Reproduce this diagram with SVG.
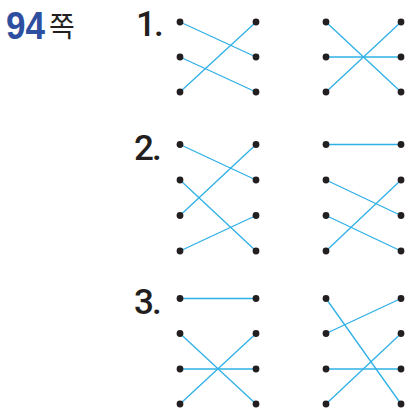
<svg xmlns="http://www.w3.org/2000/svg" width="406" height="408" viewBox="0 0 406 408">
<style>
.ln{stroke:#2fb0e6;stroke-width:1.3;fill:none}
.dot{fill:#231f20}
.num{font-family:Roboto,"Liberation Sans",Arial,sans-serif;font-weight:500;font-size:35px;fill:#231f20;letter-spacing:-2px}
</style>
<defs><circle id="d" r="3.4" class="dot"/></defs>
<g id="title">
<text x="6" y="39" font-family="Liberation Sans,Arial,sans-serif" font-weight="bold" font-size="39" fill="#2e4fa0" textLength="39" lengthAdjust="spacingAndGlyphs">94</text>
<text x="49" y="37" font-family="Noto Sans CJK KR,sans-serif" font-size="28" fill="#231f20">쪽</text>
</g>
<g id="labels">
<text class="num" x="136" y="36">1.</text>
<text class="num" x="134" y="160">2.</text>
<text class="num" x="134" y="314">3.</text>
</g>
<g id="connectors">
<line class="ln" x1="180" y1="22" x2="256" y2="57"/>
<line class="ln" x1="180" y1="57" x2="256" y2="92"/>
<line class="ln" x1="180" y1="92" x2="256" y2="22"/>
<line class="ln" x1="326" y1="22" x2="401" y2="92"/>
<line class="ln" x1="326" y1="57" x2="401" y2="57"/>
<line class="ln" x1="326" y1="92" x2="401" y2="22"/>
<line class="ln" x1="180" y1="144.5" x2="256" y2="180"/>
<line class="ln" x1="180" y1="180" x2="256" y2="251"/>
<line class="ln" x1="180" y1="215.5" x2="256" y2="144.5"/>
<line class="ln" x1="180" y1="251" x2="256" y2="215.5"/>
<line class="ln" x1="326" y1="144.5" x2="401" y2="144.5"/>
<line class="ln" x1="326" y1="180" x2="401" y2="215.5"/>
<line class="ln" x1="326" y1="215.5" x2="401" y2="251"/>
<line class="ln" x1="326" y1="251" x2="401" y2="180"/>
<line class="ln" x1="180" y1="298.5" x2="256" y2="298.5"/>
<line class="ln" x1="180" y1="333.5" x2="256" y2="404"/>
<line class="ln" x1="180" y1="369" x2="256" y2="369"/>
<line class="ln" x1="180" y1="404" x2="256" y2="333.5"/>
<line class="ln" x1="326" y1="298.5" x2="401" y2="404"/>
<line class="ln" x1="326" y1="333.5" x2="401" y2="298.5"/>
<line class="ln" x1="326" y1="369" x2="401" y2="369"/>
<line class="ln" x1="326" y1="404" x2="401" y2="333.5"/>
</g>
<g id="dots">
<use href="#d" x="180" y="22"/><use href="#d" x="180" y="57"/><use href="#d" x="180" y="92"/>
<use href="#d" x="256" y="22"/><use href="#d" x="256" y="57"/><use href="#d" x="256" y="92"/>
<use href="#d" x="326" y="22"/><use href="#d" x="326" y="57"/><use href="#d" x="326" y="92"/>
<use href="#d" x="401" y="22"/><use href="#d" x="401" y="57"/><use href="#d" x="401" y="92"/>
<use href="#d" x="180" y="144.5"/><use href="#d" x="180" y="180"/><use href="#d" x="180" y="215.5"/><use href="#d" x="180" y="251"/>
<use href="#d" x="256" y="144.5"/><use href="#d" x="256" y="180"/><use href="#d" x="256" y="215.5"/><use href="#d" x="256" y="251"/>
<use href="#d" x="326" y="144.5"/><use href="#d" x="326" y="180"/><use href="#d" x="326" y="215.5"/><use href="#d" x="326" y="251"/>
<use href="#d" x="401" y="144.5"/><use href="#d" x="401" y="180"/><use href="#d" x="401" y="215.5"/><use href="#d" x="401" y="251"/>
<use href="#d" x="180" y="298.5"/><use href="#d" x="180" y="333.5"/><use href="#d" x="180" y="369"/><use href="#d" x="180" y="404"/>
<use href="#d" x="256" y="298.5"/><use href="#d" x="256" y="333.5"/><use href="#d" x="256" y="369"/><use href="#d" x="256" y="404"/>
<use href="#d" x="326" y="298.5"/><use href="#d" x="326" y="333.5"/><use href="#d" x="326" y="369"/><use href="#d" x="326" y="404"/>
<use href="#d" x="401" y="298.5"/><use href="#d" x="401" y="333.5"/><use href="#d" x="401" y="369"/><use href="#d" x="401" y="404"/>
</g>
</svg>
